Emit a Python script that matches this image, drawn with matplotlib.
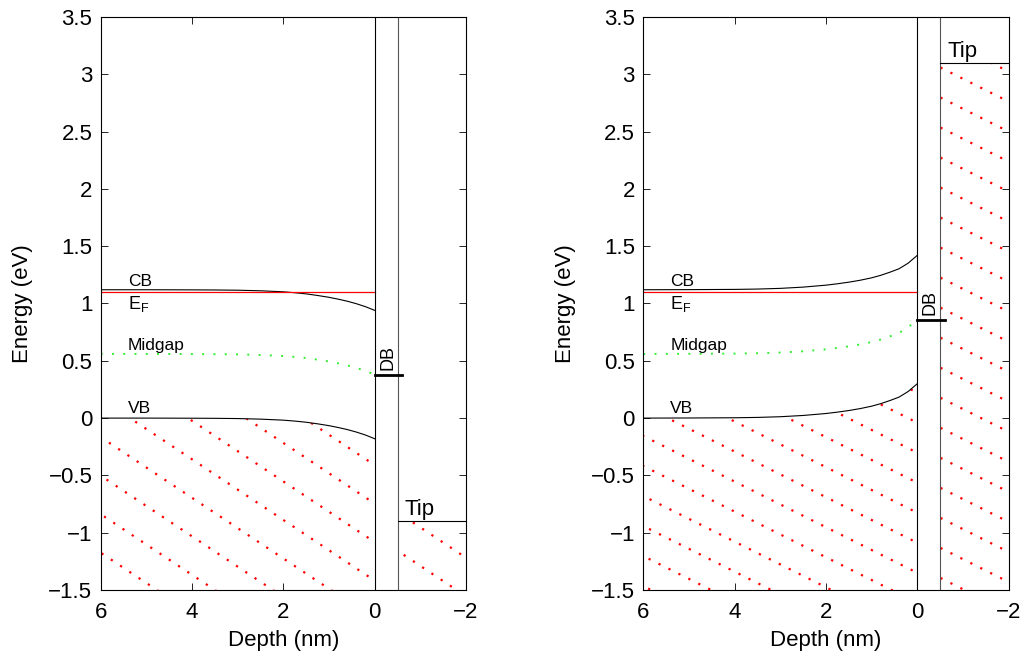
import numpy as np
import matplotlib
matplotlib.use('Agg')
import matplotlib.pyplot as plt
from matplotlib.patches import Polygon

plt.rcParams['font.family'] = ['Liberation Sans', 'DejaVu Sans']
plt.rcParams['mathtext.fontset'] = 'custom'
plt.rcParams['mathtext.rm'] = 'Liberation Sans'
plt.rcParams['mathtext.it'] = 'Liberation Sans'
plt.rcParams['mathtext.default'] = 'rm'

# depth into the sample (nm) and band bending (eV)
depth = [6, 5, 4, 3.5, 3, 2.5, 2, 1.75, 1.5, 1.25, 1.0, 0.8, 0.6, 0.4, 0.2, 0]
bend_left = [0, 0, -0.001, -0.002, -0.004, -0.009, -0.018, -0.026, -0.036,
             -0.050, -0.066, -0.082, -0.100, -0.122, -0.148, -0.18]
bend_right = [0, 0.001, 0.003, 0.006, 0.012, 0.023, 0.040, 0.052, 0.066,
              0.083, 0.104, 0.126, 0.153, 0.183, 0.232, 0.30]

gap = 1.12
e_fermi = 1.10
db_level = [0.38, 0.86]
tip_level = [-0.9, 3.1]

xticks = [6, 4, 2, 0, -2]
yticks = [-1.5, -1, -0.5, 0, 0.5, 1, 1.5, 2, 2.5, 3, 3.5]

# hatch settings per panel: slope, spacing, offset semiconductor, offset tip
hatch_opts = [(0.2646, 0.336, -1.754, -0.689),
              (0.199, 0.262, 0.222, 3.16)]


def hatch(ax, verts, slope, step, offset):
    clip = Polygon(verts, closed=True, transform=ax.transData,
                   fill=False, edgecolor='none')
    ax.add_patch(clip)
    xs = np.array([-2.5, 6.5])
    for c in np.arange(offset - 40 * step, offset + 40 * step, step):
        ln, = ax.plot(xs, c + slope * xs, color='red', lw=1.6,
                      linestyle=(0, (1, 4.0)))
        ln.set_clip_path(clip)


def panel(ax, bend, db, tip, opts):
    vb = np.array(bend)
    cb = vb + gap
    mid = vb + gap / 2

    semi = list(zip(depth, vb)) + [(0, -1.5), (6, -1.5)]
    hatch(ax, semi, opts[0], opts[1], opts[2])
    tipbox = [(-0.5, -1.5), (-0.5, tip), (-2, tip), (-2, -1.5)]
    hatch(ax, tipbox, opts[0], opts[1], opts[3])

    ax.plot(depth, cb, color='k', lw=0.8)
    ax.plot(depth, vb, color='k', lw=0.8)
    ax.plot(depth, mid, color='#33ee33', lw=1.4, linestyle=(0, (1, 4.8)))
    ax.plot([6, 0], [e_fermi, e_fermi], color='red', lw=0.9)

    ax.axvline(0, color='k', lw=0.8)
    ax.axvline(-0.5, color='#555555', lw=0.8)
    ax.plot([0, -0.6], [db, db], color='k', lw=2)
    ax.text(-0.47, db + 0.04, 'DB', rotation=90, ha='right', va='bottom',
            fontsize=13)

    ax.plot([-0.5, -2], [tip, tip], color='k', lw=0.8)
    ax.text(-0.66, tip + 0.055, 'Tip', fontsize=16, va='baseline')

    ax.text(5.41, 1.155, 'CB', fontsize=12.5, va='baseline')
    ax.text(5.41, 0.949, 'E$_F$', fontsize=13, va='baseline')
    ax.text(5.41, 0.594, 'Midgap', fontsize=12.5, va='baseline')
    ax.text(5.41, 0.042, 'VB', fontsize=12.5, va='baseline')

    ax.set_xlim(6, -2)
    ax.set_ylim(-1.5, 3.5)
    ax.set_xticks(xticks)
    ax.set_xticklabels(['%g' % t if t >= 0 else '\u2212%g' % -t for t in xticks])
    ax.set_yticks(yticks)
    ax.set_yticklabels(['%g' % t if t >= 0 else '\u2212%g' % -t for t in yticks])
    ax.tick_params(direction='in', top=True, right=True, length=5,
                   labelsize=16, width=0.6)
    ax.tick_params(axis='x', pad=9)
    ax.tick_params(axis='y', pad=6)
    for s in ax.spines.values():
        s.set_linewidth(0.8)
    ax.set_xlabel('Depth (nm)', fontsize=16, labelpad=5)
    ax.set_ylabel('Energy (eV)', fontsize=16, labelpad=11)


fig = plt.figure(figsize=(10.21, 6.58), dpi=100)
W, H = 1021, 658
ax1 = fig.add_axes([100.7 / W, (H - 590) / H, 365.3 / W, 573 / H])
ax2 = fig.add_axes([643.3 / W, (H - 590) / H, 365.3 / W, 573 / H])

panel(ax1, bend_left, db_level[0], tip_level[0], hatch_opts[0])
panel(ax2, bend_right, db_level[1], tip_level[1], hatch_opts[1])

fig.savefig('out.png', dpi=100)
